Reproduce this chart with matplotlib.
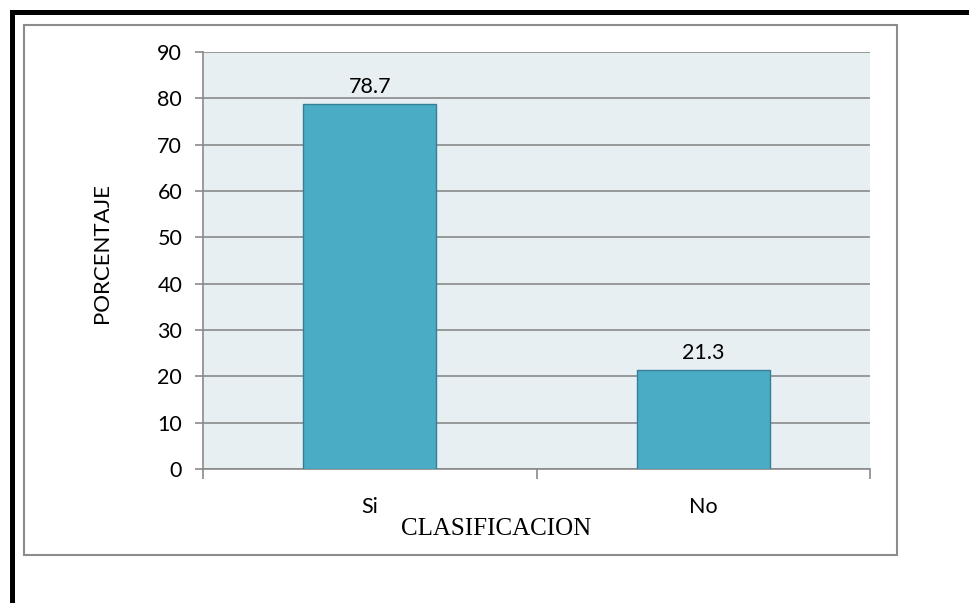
import matplotlib
matplotlib.use("Agg")
import matplotlib.pyplot as plt
from matplotlib.patches import Rectangle

categories = ["Si", "No"]
porcentajes = [78.7, 21.3]
yticks = [0, 10, 20, 30, 40, 50, 60, 70, 80, 90]

W, H = 969, 603
fig = plt.figure(figsize=(W / 100, H / 100), dpi=100)
fig.patch.set_facecolor("white")

# black frame (top and left) and inner gray chart box
fig.add_artist(Rectangle((10 / W, 0), 5 / W, 1 - 10 / H, transform=fig.transFigure,
                         facecolor="black", edgecolor="none"))
fig.add_artist(Rectangle((10 / W, 1 - 15 / H), 1, 5 / H, transform=fig.transFigure,
                         facecolor="black", edgecolor="none"))
fig.add_artist(Rectangle((24 / W, 1 - 555 / H), (897 - 24) / W, (555 - 25) / H,
                         transform=fig.transFigure, facecolor="none",
                         edgecolor="#8c8c8c", linewidth=1.5))

left, right, top, bottom = 203, 870, 52, 469
ax = fig.add_axes([left / W, 1 - bottom / H, (right - left) / W, (bottom - top) / H])
ax.set_facecolor("#E8EFF3")

x = list(range(len(categories)))
bars = ax.bar(x, porcentajes, width=0.4, color="#4BACC6", edgecolor="#357F95",
              linewidth=1, zorder=3)
for b, v in zip(bars, porcentajes):
    ax.annotate(f"{v}", (b.get_x() + b.get_width() / 2, v), xytext=(0, 5),
                textcoords="offset points", ha="center", va="bottom",
                fontsize=15.5, family="Lato")

ax.set_xlim(-0.5, 1.5)
ax.set_ylim(0, 90)
ax.set_yticks(yticks)
ax.set_yticklabels([str(t) for t in yticks], fontsize=15.5, family="Lato")
ax.yaxis.grid(True, color="#8a8a8a", linewidth=1.2, zorder=1)
ax.set_axisbelow(True)

ax.set_xticks([-0.5, 0.5, 1.5], minor=False)
ax.set_xticklabels(["", "", ""])
ax.set_xticks(x, minor=True)
ax.set_xticklabels(categories, minor=True, fontsize=15.5, family="Lato")
ax.tick_params(axis="x", which="minor", length=0, pad=20)
ax.tick_params(axis="x", which="major", length=7, color="#8a8a8a", width=1.2)
ax.tick_params(axis="y", length=6, color="#8a8a8a", width=1.2, pad=9)

for s in ["top", "right"]:
    ax.spines[s].set_visible(False)
for s in ["left", "bottom"]:
    ax.spines[s].set_color("#8a8a8a")
    ax.spines[s].set_linewidth(1.2)

ax.set_ylabel("PORCENTAJE", fontsize=16, family="Lato", va="center")
ax.yaxis.set_label_coords(-0.151, 0.517)
ax.set_xlabel("CLASIFICACION", fontsize=18, family="Liberation Serif", va="center")
ax.xaxis.set_label_coords(0.439, -0.144)

fig.savefig("out.png", dpi=100)
